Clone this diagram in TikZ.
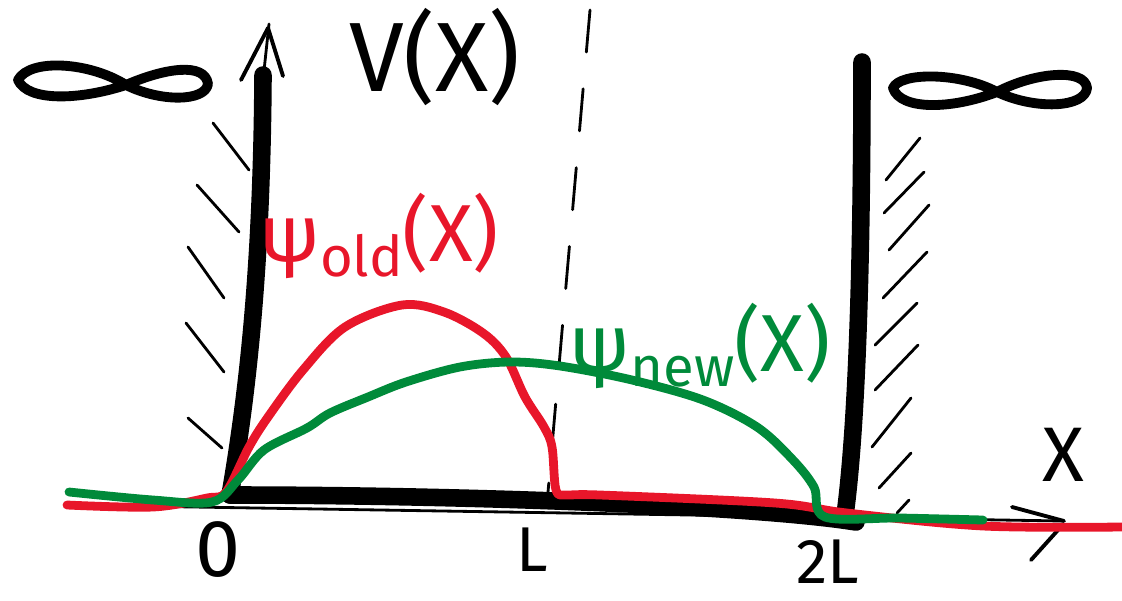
\documentclass[tikz,border=0pt]{standalone}
\usepackage{fontspec}
\setmainfont{Fira Sans}
\definecolor{oldred}{RGB}{232,22,42}
\definecolor{newgreen}{RGB}{0,138,58}

\begin{document}
\begin{tikzpicture}[x=0.01cm,y=-0.01cm,line cap=round,line join=round,
    wall/.style={line width=5pt},
    hatch/.style={line width=0.8pt},
    tip/.style={line width=1.1pt},
    wave/.style={line width=2.5pt},
    lbl/.style={inner sep=0pt}]
    \useasboundingbox (0,0) rectangle (1122,600);

    % walls and floor of the well
    \coordinate (zero) at (230,495);
    \coordinate (twoL) at (845,515);
    \draw[wall] (263,75) .. controls (262,250) and (250,380) .. (zero);
    \draw[wall] (zero) .. controls (450,495) and (750,505) .. (856,522);
    \draw[wall] (862,62) .. controls (862,300) and (855,440) .. (twoL);

    % axes
    \draw[hatch] (70,505) -- (1063,521);
    \draw[tip] (1012,507) -- (1064,521);
    \draw[tip] (1058,530) -- (1031,560);
    \draw[hatch] (263,80) -- (269,24);
    \draw[tip] (241,80) -- (268,28) -- (283,76);

    % hatching behind the walls
    \foreach \a/\b/\c/\d in {213/123/249/170, 197/185/239/232, 188/247/224/298,
                             186/323/224/372, 188/418/222/448}
        \draw[hatch] (\a,\b) -- (\c,\d);
    \foreach \a/\b/\c/\d in {886/180/920/138, 884/213/924/172, 889/250/929/205,
                             883/298/927/252, 875/345/917/303, 875/390/918/345,
                             872/447/911/398, 879/488/911/453, 897/513/909/500}
        \draw[hatch] (\a,\b) -- (\c,\d);

    % half width
    \draw[hatch, dash pattern=on 12pt off 10.5pt] (590,10) -- (548,492);

    % infinity on both sides
    \draw[line width=2.8pt] (126,85) .. controls (90,62) and (30,58) .. (18,80)
        .. controls (28,102) and (80,100) .. (126,85)
        .. controls (165,68) and (205,62) .. (208,84)
        .. controls (205,102) and (160,102) .. (126,85);
    \draw[line width=2.8pt] (997,92) .. controls (960,72) and (900,72) .. (893,88)
        .. controls (900,110) and (950,110) .. (997,92)
        .. controls (1035,72) and (1085,68) .. (1087,88)
        .. controls (1085,108) and (1035,110) .. (997,92);

    % wave functions
    \draw[wave, oldred] plot[smooth, tension=0.55] coordinates {(67,505) (153,507)
        (207,498) (226,492) (249,447) (268,417) (303,370) (345,327) (402,305)
        (444,312) (483,333) (506,357) (525,397) (544,427) (552,447) (556,490)
        (567,495) (600,495) (775,503) (847,513) (983,526) (1122,527)};
    \draw[wave, newgreen] plot[smooth, tension=0.55] coordinates {(69,492)
        (153,500) (212,502) (238,480) (264,450) (307,428) (330,413) (368,397)
        (406,382) (460,367) (510,362) (560,366) (632,380) (703,400) (757,427)
        (793,460) (814,487) (825,517) (900,518) (983,520)};

    % labels
    \node[lbl] (vx) at (435,57) {\fontsize{28}{28}\selectfont V(X)};
    \node[lbl, text=oldred] (psiold) at (379,236)
        {\fontsize{23}{23}\selectfont ψ\raisebox{-0.35ex}{\fontsize{16}{16}\selectfont old}(X)};
    \node[lbl, text=newgreen] (psinew) at (700,346)
        {\fontsize{23}{23}\selectfont ψ\raisebox{-0.35ex}{\fontsize{16}{16}\selectfont new}(X)};
    \node[lbl] (xlab) at (1063,455) {\fontsize{22}{22}\selectfont X};
    \node[lbl] (lzero) at (218,550) {\fontsize{23}{23}\selectfont 0};
    \node[lbl] (lL) at (532,550) {\fontsize{18}{18}\selectfont L};
    \node[lbl] (ltwoL) at (828,562) {\fontsize{18}{18}\selectfont 2L};
\end{tikzpicture}
\end{document}
